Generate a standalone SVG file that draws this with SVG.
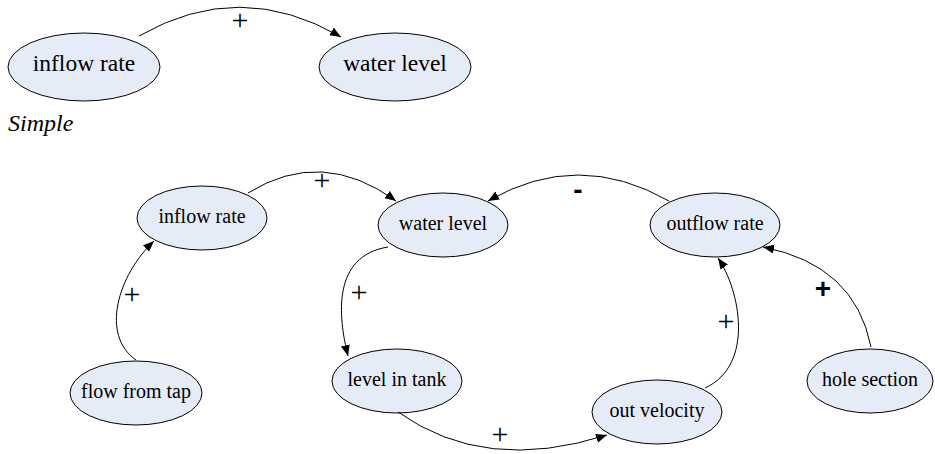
<svg xmlns="http://www.w3.org/2000/svg" width="935" height="454" viewBox="0 0 935 454">
  <style>
    .node ellipse { fill: #e5ebf7; stroke: #000; stroke-width: 1; }
    .link { fill: none; stroke: #000; stroke-width: 1; marker-end: url(#head); }
  </style>
  <defs>
    <marker id="head" markerUnits="userSpaceOnUse" markerWidth="12" markerHeight="10" refX="11" refY="4.5" orient="auto">
      <path d="M0,0 L11,4.5 L0,9 z" fill="#000"/>
    </marker>
  </defs>

  <!-- simple model -->
  <g font-family="Liberation Serif, DejaVu Serif, serif" font-size="23.5" text-anchor="middle" fill="#000">
    <g id="simple-inflow" class="node">
      <ellipse cx="84" cy="67" rx="76" ry="34"/>
      <text x="84" y="71">inflow rate</text>
    </g>
    <g id="simple-water" class="node">
      <ellipse cx="395" cy="67" rx="76" ry="34"/>
      <text x="395" y="71">water level</text>
    </g>
  </g>
  <text x="8" y="131" font-family="Liberation Serif, DejaVu Serif, serif" font-style="italic" font-size="24" fill="#000">Simple</text>

  <!-- full model -->
  <g font-family="Liberation Serif, DejaVu Serif, serif" font-size="20" text-anchor="middle" fill="#000">
    <g id="inflow" class="node">
      <ellipse cx="202" cy="218" rx="65" ry="32"/>
      <text x="202" y="223">inflow rate</text>
    </g>
    <g id="water" class="node">
      <ellipse cx="443" cy="225" rx="65" ry="32"/>
      <text x="443" y="230">water level</text>
    </g>
    <g id="outflow" class="node">
      <ellipse cx="715" cy="225" rx="65" ry="32"/>
      <text x="715" y="230">outflow rate</text>
    </g>
    <g id="tap" class="node">
      <ellipse cx="136" cy="393" rx="66" ry="32"/>
      <text x="136" y="398">flow from tap</text>
    </g>
    <g id="tank" class="node">
      <ellipse cx="397" cy="381" rx="65" ry="32"/>
      <text x="397" y="386">level in tank</text>
    </g>
    <g id="velocity" class="node">
      <ellipse cx="657" cy="412" rx="65" ry="32"/>
      <text x="657" y="417">out velocity</text>
    </g>
    <g id="hole" class="node">
      <ellipse cx="870" cy="381" rx="63" ry="32"/>
      <text x="870" y="386">hole section</text>
    </g>
  </g>

  <g id="connectors">
    <path class="link" d="M139,36 Q240,-22 341,37"/>
    <path class="link" d="M248,193 Q322,147 396,201"/>
    <path class="link" d="M669,201 Q578,149 488,201"/>
    <path class="link" d="M388,247 C332,256 338,316 348,356"/>
    <path class="link" d="M398,412 Q485,474 607,435"/>
    <path class="link" d="M705,388 C755,365 740,290 718,258"/>
    <path class="link" d="M871,347 Q855,265 763,247"/>
    <path class="link" d="M136,360 C100,335 118,275 154,241"/>
  </g>

  <!-- polarity signs -->
  <g id="signs" font-family="Liberation Serif, serif" font-size="30" text-anchor="middle" fill="#000">
    <text x="240" y="30">+</text>
    <text x="322" y="190">+</text>
    <text x="359" y="302">+</text>
    <text x="132" y="304">+</text>
    <text x="500" y="444">+</text>
    <text x="726" y="331">+</text>
  </g>
  <g font-family="Liberation Sans, sans-serif" font-size="28" font-weight="bold" text-anchor="middle" fill="#000">
    <text x="578" y="199">-</text>
    <text x="823" y="298">+</text>
  </g>
</svg>
